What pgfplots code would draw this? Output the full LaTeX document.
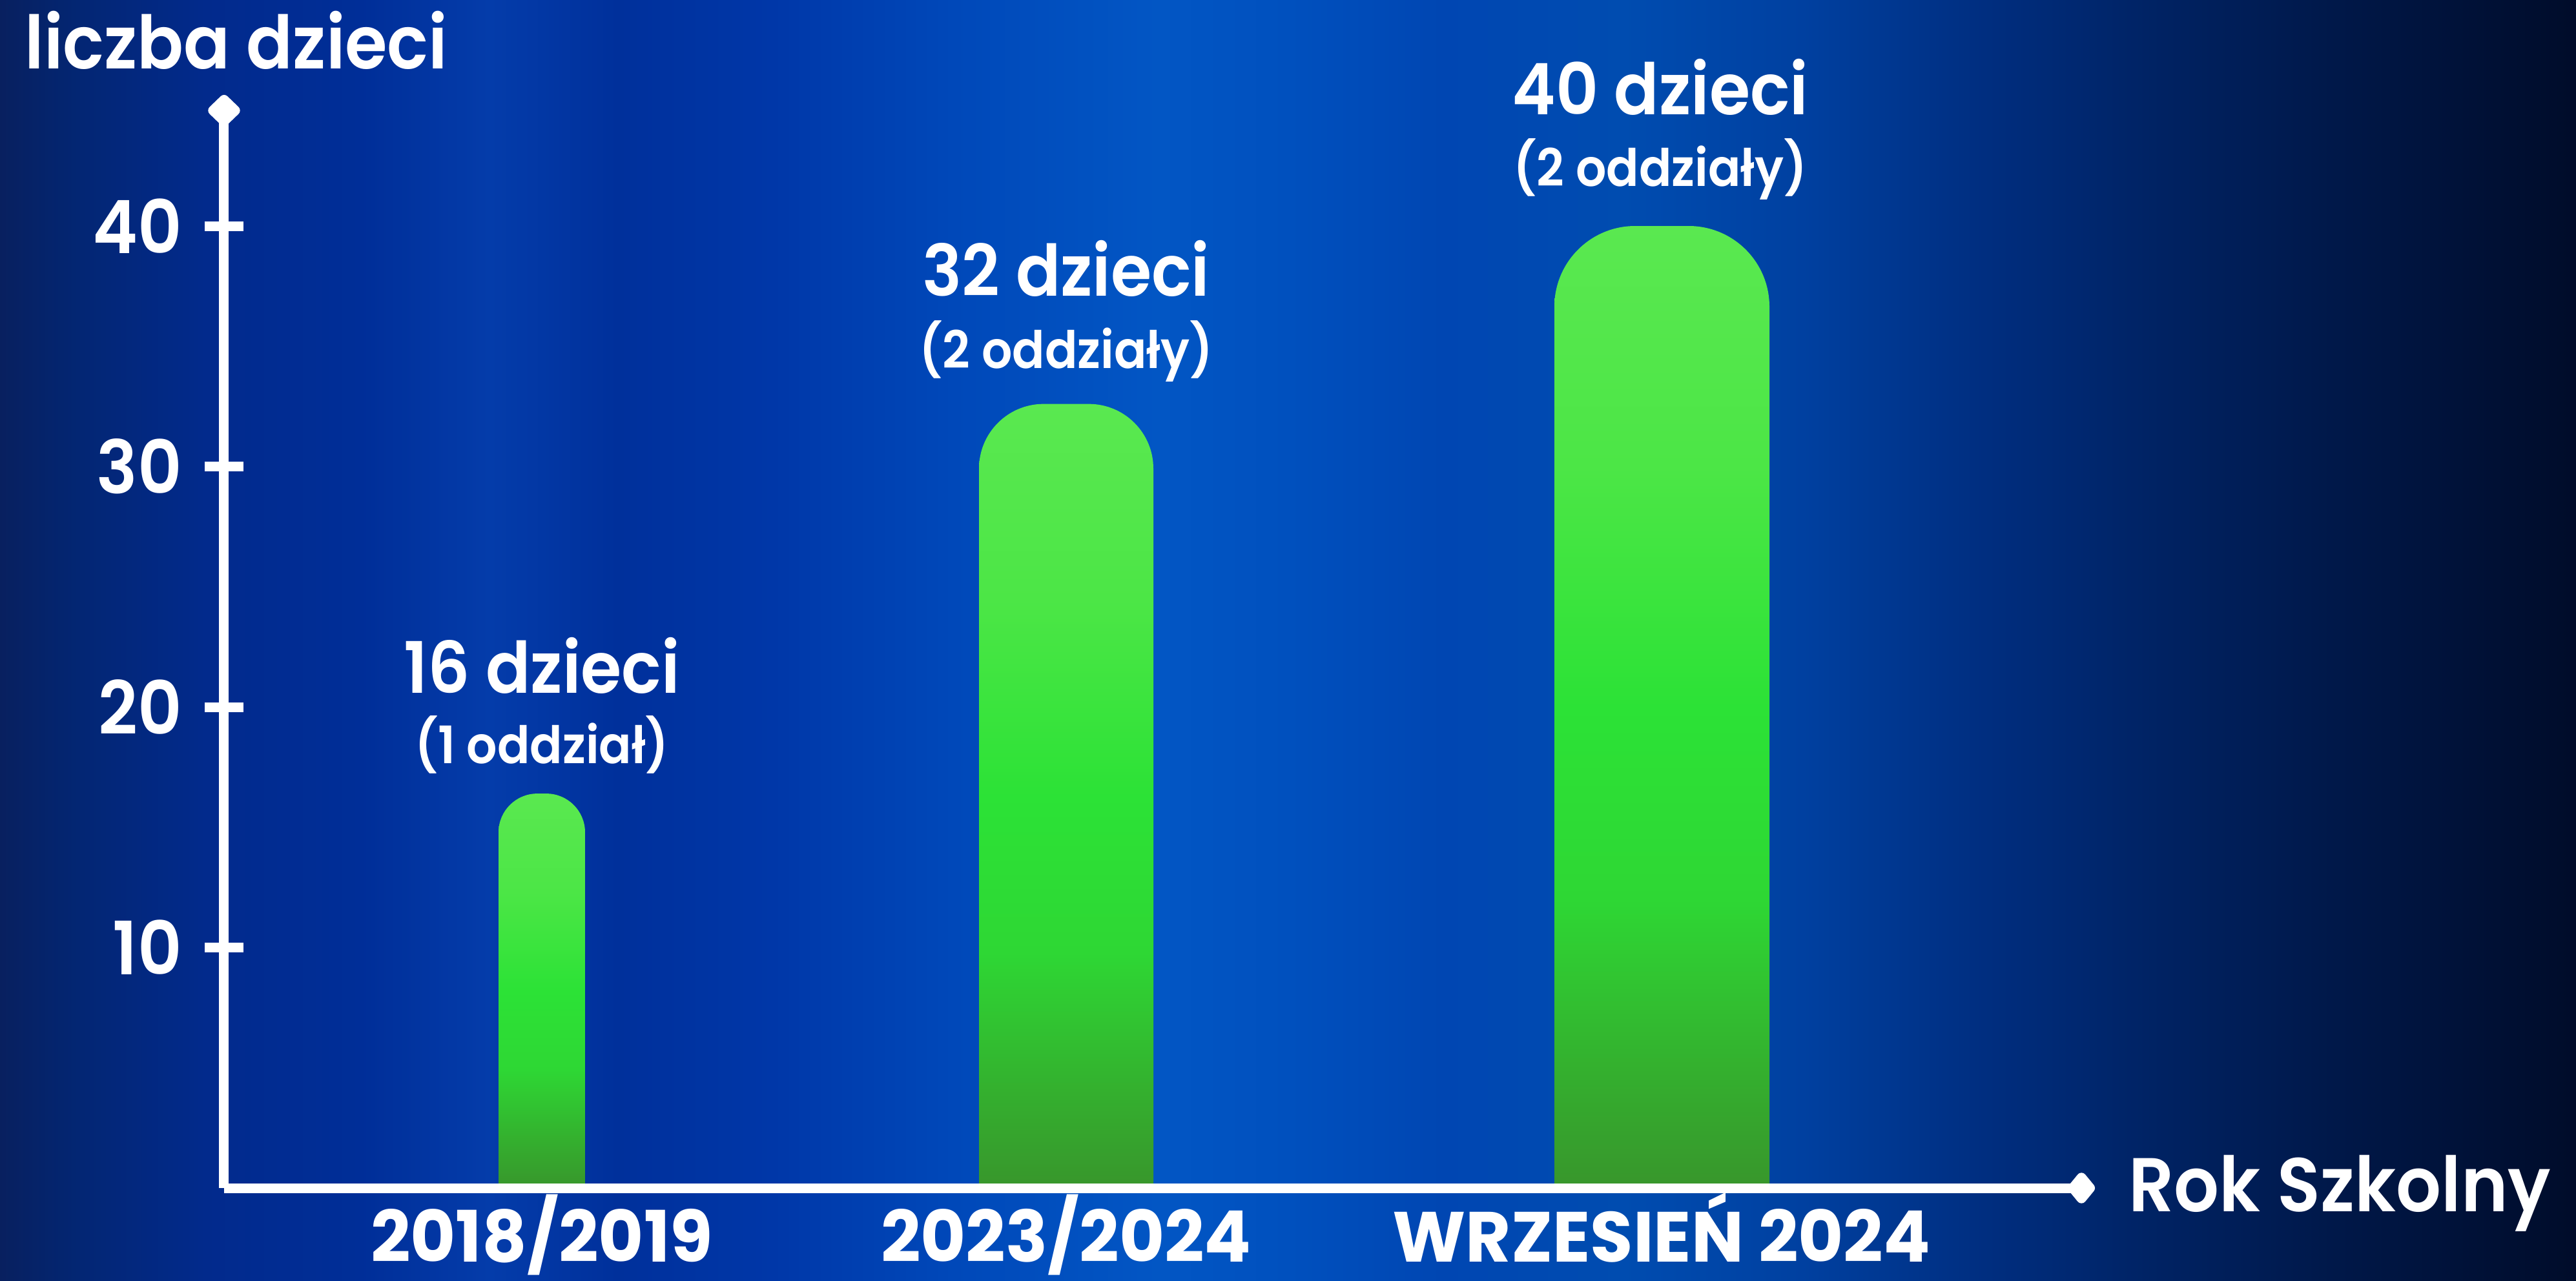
\documentclass[border=0pt]{standalone}
\usepackage{fontspec}
\setmainfont{Poppins SemiBold}[FakeStretch=0.93]
\newfontfamily\catfont{Poppins Bold}[FakeStretch=0.98]
\usepackage{pgfplots}
\pgfplotsset{compat=1.18}
\usetikzlibrary{arrows.meta}

% background: horizontal blue gradient (path maps to 25bp..75bp)
\pgfdeclarehorizontalshading{bgshade}{100bp}{
  color(0bp)=(rgb,255:red,8;green,32;blue,95);
  color(25bp)=(rgb,255:red,8;green,32;blue,95);
  color(26.5bp)=(rgb,255:red,3;green,38;blue,115);
  color(29bp)=(rgb,255:red,2;green,42;blue,140);
  color(32bp)=(rgb,255:red,0;green,46;blue,152);
  color(34.5bp)=(rgb,255:red,4;green,60;blue,170);
  color(37bp)=(rgb,255:red,0;green,48;blue,155);
  color(40bp)=(rgb,255:red,0;green,55;blue,168);
  color(43.5bp)=(rgb,255:red,0;green,72;blue,185);
  color(47.5bp)=(rgb,255:red,2;green,86;blue,196);
  color(50bp)=(rgb,255:red,0;green,80;blue,190);
  color(53bp)=(rgb,255:red,0;green,70;blue,178);
  color(56.5bp)=(rgb,255:red,0;green,76;blue,176);
  color(60bp)=(rgb,255:red,0;green,64;blue,160);
  color(63.5bp)=(rgb,255:red,0;green,46;blue,128);
  color(67bp)=(rgb,255:red,0;green,34;blue,98);
  color(71bp)=(rgb,255:red,0;green,22;blue,68);
  color(75bp)=(rgb,255:red,0;green,12;blue,42);
  color(100bp)=(rgb,255:red,0;green,12;blue,42)}

% bars: vertical green gradient, bottom to top
\pgfdeclareverticalshading{barshade}{100bp}{
  color(0bp)=(rgb,255:red,56;green,150;blue,44);
  color(25bp)=(rgb,255:red,56;green,150;blue,44);
  color(31bp)=(rgb,255:red,52;green,175;blue,46);
  color(40bp)=(rgb,255:red,46;green,215;blue,52);
  color(50bp)=(rgb,255:red,44;green,226;blue,54);
  color(62.5bp)=(rgb,255:red,76;green,230;blue,70);
  color(75bp)=(rgb,255:red,90;green,232;blue,80);
  color(100bp)=(rgb,255:red,90;green,232;blue,80)}

\newcommand{\bigtxt}{\fontsize{11}{13}\selectfont}
\newcommand{\titletxt}{\fontsize{11.4}{13}\selectfont}
\newcommand{\smalltxt}{\fontsize{8}{10}\selectfont}

\begin{document}
\begin{tikzpicture}
% canvas 3989 x 1983 px at 0.1pt per px; axis corner (347,1840) at origin
\useasboundingbox (-34.7pt,-14.3pt) rectangle (364.2pt,184pt);
\fill[shading=bgshade] (-34.7pt,-14.3pt) rectangle (364.2pt,184pt);
\begin{axis}[
  at={(0,0)}, anchor=south west,
  x=0.1pt, y=3.725pt,
  xmin=347, xmax=3244, ymin=0, ymax=45.45,
  axis x line=bottom, axis y line=left,
  axis on top, clip=false,
  axis line style={white, line width=1.5pt},
  x axis line style={-{Diamond[length=4.6pt, width=5.6pt, round]}},
  y axis line style={-{Diamond[length=5.4pt, width=5.6pt, round]}},
  ytick={10,20,30,40},
  xtick={839,1651,2573},
  xticklabels={2018/2019, 2023/2024, WRZESIEŃ 2024},
  x tick style={draw=none},
  y tick style={white, line width=1.5pt},
  major tick length=6pt, tick align=center,
  /pgf/number format/assume math mode=true,
  yticklabel style={font=\titletxt, text=white},
  xticklabel style={font=\catfont\bigtxt, text=white,
    anchor=base, inner sep=0pt, yshift=-8.4pt},
]
  \addplot[draw=none, shading=barshade, rounded corners=6pt]
    coordinates {(772,0) (772,16.4) (906,16.4) (906,0)};
  \addplot[draw=none, shading=barshade, rounded corners=10pt]
    coordinates {(1516,0) (1516,32.6) (1786,32.6) (1786,0)};
  \addplot[draw=none, shading=barshade, rounded corners=12.5pt]
    coordinates {(2407,0) (2407,40.0) (2740,40.0) (2740,0)};

  \node[anchor=base, text=white, font=\bigtxt] at (axis cs:839,20.59) {16 dzieci};
  \node[anchor=base, text=white, font=\smalltxt] at (axis cs:839,17.64) {(1 oddział)};
  \node[anchor=base, text=white, font=\bigtxt] at (axis cs:1651,37.10) {32 dzieci};
  \node[anchor=base, text=white, font=\smalltxt] at (axis cs:1651,34.09) {(2 oddziały)};
  \node[anchor=base, text=white, font=\bigtxt] at (axis cs:2571,44.64) {40 dzieci};
  \node[anchor=base, text=white, font=\smalltxt] at (axis cs:2571,41.66) {(2 oddziały)};

  \node[anchor=base west, text=white, font=\titletxt, inner sep=0pt] at (axis cs:37,46.55) {liczba dzieci};
  \node[anchor=base west, text=white, font=\fontsize{11.8}{13}\selectfont, inner sep=0pt] at (axis cs:3294,-0.99) {Rok Szkolny};
\end{axis}
\end{tikzpicture}
\end{document}
